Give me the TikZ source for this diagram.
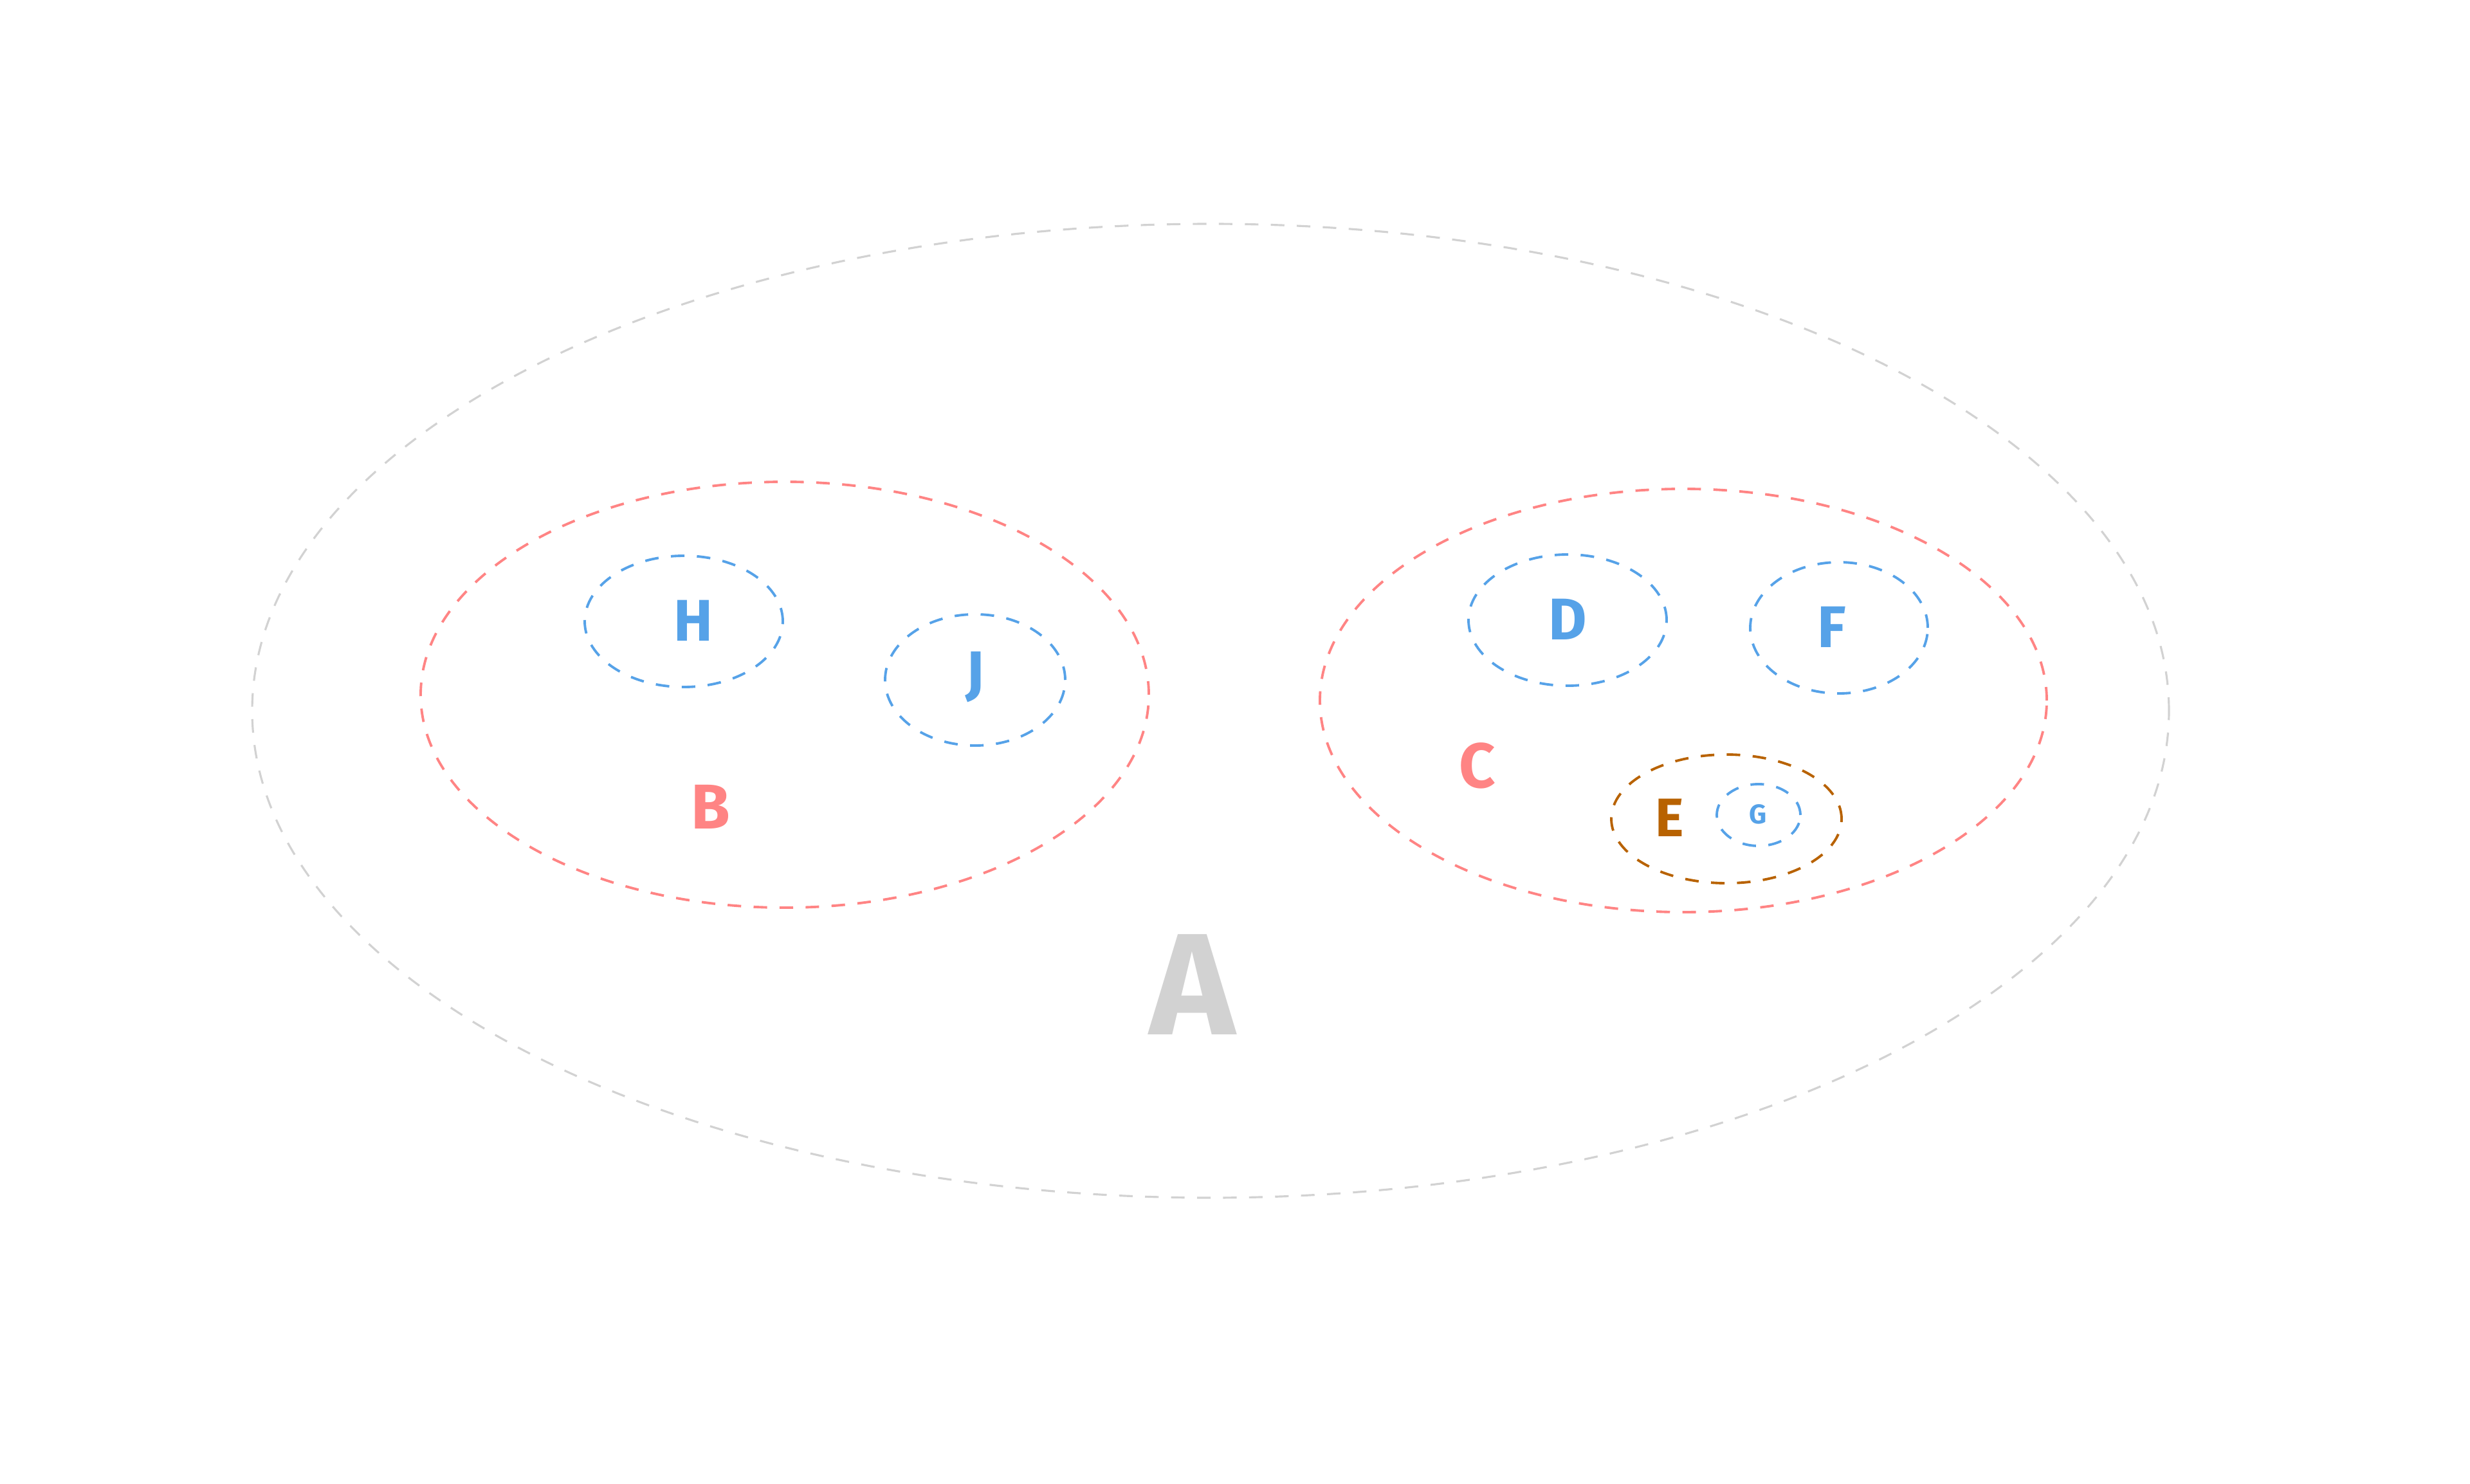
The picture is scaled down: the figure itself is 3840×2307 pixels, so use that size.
\documentclass[tikz,border=0pt]{standalone}
\usepackage{fontspec}
\setmainfont{Fira Sans}
\usetikzlibrary{shapes.geometric}

\begin{document}
\begin{tikzpicture}[x=0.1mm,y=-0.1mm]

    % Farben
    \definecolor{grauA}{RGB}{210,210,210}
    \definecolor{rotB}{RGB}{255,132,132}
    \definecolor{blauH}{RGB}{86,162,232}
    \definecolor{braunE}{RGB}{184,98,0}

    % Stile
    \tikzset{
        menge/.style={ellipse, draw, inner sep=0pt, line width=1.1pt,
            dash pattern=on 6pt off 5.5pt},
        marke/.style={inner sep=0pt, font=\bfseries\fontsize{#1}{#1}\selectfont},
    }

    % Rahmen
    \useasboundingbox (0,0) rectangle (3840,2307);

    % Mengen
    \node[menge, draw=grauA, line width=0.9pt, minimum width=298mm, minimum height=151.4mm] (A) at (1882,1105) {};
    \node[menge, draw=rotB, minimum width=113.2mm, minimum height=66.2mm] (B) at (1220,1080) {};
    \node[menge, draw=rotB, minimum width=113mm, minimum height=65.8mm] (C) at (2617,1089) {};
    \node[menge, draw=blauH, minimum width=30.8mm, minimum height=20.4mm] (H) at (1063,966) {};
    \node[menge, draw=blauH, minimum width=28mm, minimum height=20.4mm] (J) at (1516,1057) {};
    \node[menge, draw=blauH, minimum width=30.8mm, minimum height=20.4mm] (D) at (2437,964) {};
    \node[menge, draw=blauH, minimum width=27.6mm, minimum height=20.4mm] (F) at (2859,976) {};
    \node[menge, draw=braunE, minimum width=35.8mm, minimum height=20mm] (E) at (2684,1273) {};
    \node[menge, draw=blauH, minimum width=13mm, minimum height=9.6mm] (G) at (2734,1267) {};

    % Beschriftungen
    \node[marke=64, text=grauA] (labelA) at (1854,1531) {A};
    \node[marke=28, text=rotB] (labelB) at (1105,1254) {B};
    \node[marke=28, text=rotB] (labelC) at (2297,1190) {C};
    \node[marke=26, text=blauH] (labelH) at (1078,965) {H};
    \node[marke=26, text=blauH] (labelJ) at (1516,1053) {J};
    \node[marke=26, text=blauH] (labelD) at (2437,963) {D};
    \node[marke=26, text=blauH] (labelF) at (2848,975) {F};
    \node[marke=24, text=braunE] (labelE) at (2596,1271) {E};
    \node[marke=12, text=blauH] (labelG) at (2733,1266) {G};

\end{tikzpicture}
\end{document}
